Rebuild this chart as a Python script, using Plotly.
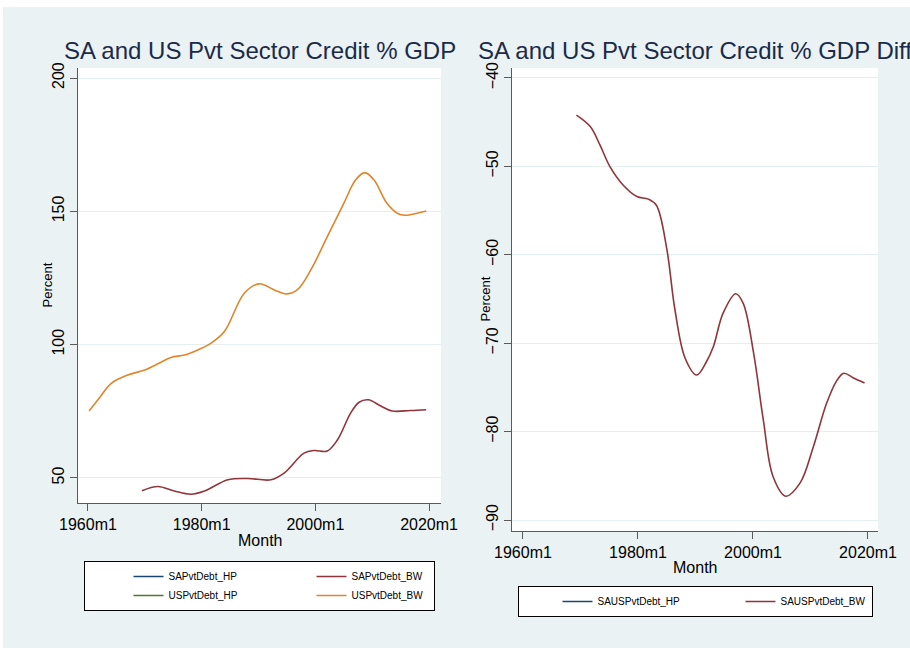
import plotly.graph_objects as go

W, H = 910, 648

# Axis ticks
month_ticks = [1960, 1980, 2000, 2020]
month_labels = ["1960m1", "1980m1", "2000m1", "2020m1"]
left_y_ticks = [50, 100, 150, 200]
right_y_ticks = [-90, -80, -70, -60, -50, -40]

# South Africa private sector credit, % of GDP (Butterworth-filtered)
sa_years = [1969.5, 1972.3, 1975.2, 1978.1, 1980.5, 1984.6, 1988.1, 1992.2,
            1994.5, 1998.0, 1999.8, 2002.1, 2003.9, 2006.2, 2007.7, 2009.3,
            2011.5, 2013.5, 2016.7, 2019.5]
sa_bw = [45.2, 46.8, 45.1, 43.9, 45.1, 49.3, 49.8, 49.3,
         51.8, 59.3, 60.3, 60.1, 64.3, 74.3, 78.4, 79.3,
         77.0, 75.1, 75.3, 75.6]

# United States private sector credit, % of GDP (Butterworth-filtered)
us_years = [1960.2, 1962.0, 1964.1, 1967.0, 1970.0, 1972.5, 1974.6, 1977.0,
            1979.5, 1981.6, 1984.0, 1987.5, 1990.1, 1992.8, 1994.8, 1996.8,
            1999.2, 2002.1, 2005.0, 2007.1, 2008.7, 2010.3, 2012.6, 2014.4,
            2015.8, 2017.9, 2019.5]
us_bw = [75.1, 80.0, 85.5, 88.6, 90.5, 93.0, 95.2, 96.1,
         98.2, 100.5, 104.9, 119.3, 122.8, 120.5, 119.0, 120.5,
         128.0, 140.5, 153.0, 161.8, 164.5, 161.8, 153.0, 149.3,
         148.5, 149.3, 150.1]

# SA minus US difference (Butterworth-filtered)
diff_years = [1969.3, 1971.7, 1973.4, 1975.1, 1977.4, 1979.8, 1981.8, 1983.2,
              1985.0, 1986.4, 1988.2, 1990.2, 1991.9, 1993.1, 1994.8, 1997.0,
              1998.3, 2000.1, 2001.8, 2003.5, 2005.7, 2008.2, 2010.5, 2012.8,
              2014.6, 2015.8, 2017.4, 2019.4]
saus_bw = [-44.2, -45.5, -47.6, -50.0, -52.1, -53.4, -53.7, -54.4,
           -59.3, -66.1, -71.7, -73.6, -72.1, -70.4, -66.6, -64.4,
           -65.5, -71.1, -78.7, -85.1, -87.3, -85.8, -81.7, -76.8,
           -74.2, -73.4, -73.9, -74.5]

# HP-filtered series: no observations over the sample (missing values)
sa_hp = [None] * len(sa_years)
us_hp = [None] * len(us_years)
saus_hp = [None] * len(diff_years)

NAVY = "#1a476f"
MAROON = "#90353b"
GREEN = "#55752f"
ORANGE = "#e0852a"
BG = "#eaf2f3"
FONT = "Liberation Sans, Arial, Helvetica, sans-serif"


def px_x(x):
    return x / W


def px_y(y):
    return (H - y) / H


fig = go.Figure()


def add_line(x, y, name, color, xa, ya, legend, group, lw):
    fig.add_trace(go.Scatter(
        x=x, y=y, name=name, mode="lines",
        line=dict(color=color, width=1.6, shape="spline", smoothing=1.0),
        xaxis=xa, yaxis=ya, legend=legend, legendgroup=group,
        legendwidth=lw, showlegend=True, hoverinfo="skip",
    ))


add_line(sa_years, sa_hp, "SAPvtDebt_HP", NAVY, "x", "y", "legend", "l_hp", 93)
add_line(sa_years, sa_bw, "SAPvtDebt_BW", MAROON, "x", "y", "legend", "l_bw", 77)
add_line(us_years, us_hp, "USPvtDebt_HP", GREEN, "x", "y", "legend", "l_hp", 93)
add_line(us_years, us_bw, "USPvtDebt_BW", ORANGE, "x", "y", "legend", "l_bw", 77)
add_line(diff_years, saus_hp, "SAUSPvtDebt_HP", NAVY, "x2", "y2", "legend2", "r_hp", 98)
add_line(diff_years, saus_bw, "SAUSPvtDebt_BW", MAROON, "x2", "y2", "legend2", "r_bw", 86)

axis_common = dict(
    showline=True, linecolor="#5a5a5a", linewidth=1,
    ticks="outside", ticklen=7, tickcolor="#5a5a5a", tickwidth=1,
    zeroline=False, tickfont=dict(family=FONT, size=16, color="#000"),
    fixedrange=True, automargin=False,
)

legend_common = dict(
    orientation="h", traceorder="grouped", xanchor="center", yanchor="top",
    bgcolor="white", bordercolor="#000", borderwidth=1,
    font=dict(family=FONT, size=10, color="#000"),
)

fig.update_layout(
    width=W, height=H, autosize=False,
    margin=dict(l=0, r=0, t=0, b=0, pad=0, autoexpand=False),
    paper_bgcolor=BG, plot_bgcolor="white",
    font=dict(family=FONT),
    xaxis=dict(domain=[px_x(78), px_x(441)], range=[1958.25, 2022.1],
               tickvals=month_ticks, ticktext=month_labels, showgrid=False,
               anchor="y", **axis_common),
    yaxis=dict(domain=[px_y(503), px_y(68)], range=[40.6, 203.75],
               tickvals=left_y_ticks, tickangle=-90, showgrid=True,
               gridcolor="#e6eff0", gridwidth=1, anchor="x", **axis_common),
    xaxis2=dict(domain=[px_x(512), px_x(878)], range=[1958.09, 2021.74],
                tickvals=month_ticks, ticktext=month_labels, showgrid=False,
                anchor="y2", **axis_common),
    yaxis2=dict(domain=[px_y(531), px_y(68)], range=[-91.24, -38.87],
                tickvals=right_y_ticks, tickangle=-90, showgrid=True,
                gridcolor="#e6eff0", gridwidth=1, anchor="x2", **axis_common),
    legend=dict(x=px_x(259), y=px_y(561), indentation=45, **legend_common),
    legend2=dict(x=px_x(695), y=px_y(586), indentation=40, **legend_common),
    showlegend=True,
)

title_font = dict(family=FONT, size=24, color="#1c2a4a")
label_font = dict(family=FONT, size=16, color="#000")
small_font = dict(family=FONT, size=13, color="#000")

annotations = [
    dict(text="SA and US Pvt Sector Credit % GDP", x=px_x(259.5), y=px_y(50),
         font=title_font),
    dict(text="SA and US Pvt Sector Credit % GDP Diff", x=px_x(695), y=px_y(50),
         font=title_font),
    dict(text="Month", x=px_x(259.5), y=px_y(540), font=label_font),
    dict(text="Month", x=px_x(695), y=px_y(567), font=label_font),
    dict(text="Percent", x=px_x(47), y=px_y(285.5), textangle=-90, font=small_font),
    dict(text="Percent", x=px_x(485), y=px_y(299.5), textangle=-90, font=small_font),
]
for a in annotations:
    fig.add_annotation(xref="paper", yref="paper", showarrow=False,
                       xanchor="center", yanchor="middle", **a)

# white page border along the top and left edges
fig.add_shape(type="rect", xref="paper", yref="paper", x0=0, x1=1,
              y0=px_y(7), y1=1, fillcolor="white", line_width=0, layer="below")
fig.add_shape(type="rect", xref="paper", yref="paper", x0=0, x1=px_x(3),
              y0=0, y1=1, fillcolor="white", line_width=0, layer="below")

fig.write_html("out.html")
